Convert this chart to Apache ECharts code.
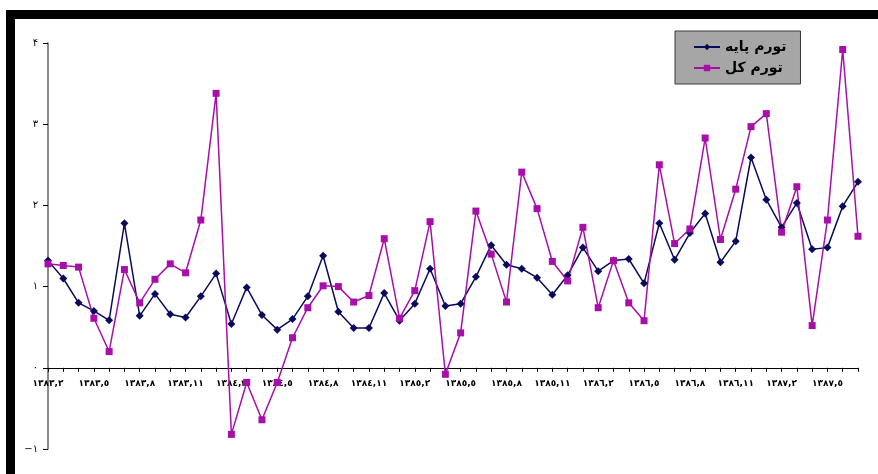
<!DOCTYPE html>
<html>
<head>
<meta charset="utf-8">
<script src="https://cdn.jsdelivr.net/npm/echarts@6/dist/echarts.min.js"></script>
<style>
html,body{margin:0;padding:0;background:#fff;}
#chart{width:878px;height:474px;}
</style>
</head>
<body>
<div id="chart"></div>
<script>
const categories = [
  "١٣٨٣,٢","١٣٨٣,٣","١٣٨٣,٤","١٣٨٣,٥","١٣٨٣,٦","١٣٨٣,٧","١٣٨٣,٨","١٣٨٣,٩","١٣٨٣,١٠","١٣٨٣,١١","١٣٨٣,١٢",
  "١٣٨٤,١","١٣٨٤,٢","١٣٨٤,٣","١٣٨٤,٤","١٣٨٤,٥","١٣٨٤,٦","١٣٨٤,٧","١٣٨٤,٨","١٣٨٤,٩","١٣٨٤,١٠","١٣٨٤,١١","١٣٨٤,١٢",
  "١٣٨٥,١","١٣٨٥,٢","١٣٨٥,٣","١٣٨٥,٤","١٣٨٥,٥","١٣٨٥,٦","١٣٨٥,٧","١٣٨٥,٨","١٣٨٥,٩","١٣٨٥,١٠","١٣٨٥,١١","١٣٨٥,١٢",
  "١٣٨٦,١","١٣٨٦,٢","١٣٨٦,٣","١٣٨٦,٤","١٣٨٦,٥","١٣٨٦,٦","١٣٨٦,٧","١٣٨٦,٨","١٣٨٦,٩","١٣٨٦,١٠","١٣٨٦,١١","١٣٨٦,١٢",
  "١٣٨٧,١","١٣٨٧,٢","١٣٨٧,٣","١٣٨٧,٤","١٣٨٧,٥","١٣٨٧,٦","١٣٨٧,٧"
];
const seriesNames = ["تورم پایه", "تورم کل"];
const baseInflation = [1.32,1.10,0.80,0.70,0.585,1.78,0.64,0.91,0.66,0.62,0.88,1.16,0.54,0.99,
  0.65,0.47,0.60,0.88,1.38,0.69,0.49,0.49,0.92,0.58,0.79,1.22,0.76,0.79,
  1.12,1.51,1.27,1.22,1.11,0.90,1.14,1.48,1.19,1.32,1.34,1.04,
  1.78,1.33,1.66,1.90,1.30,1.56,2.59,2.07,1.73,2.03,1.46,1.48,1.99,2.29];
const totalInflation = [1.28,1.26,1.24,0.61,0.20,1.21,0.80,1.09,1.28,1.17,1.82,3.38,-0.82,-0.18,
  -0.64,-0.18,0.37,0.74,1.01,1.00,0.81,0.89,1.59,0.61,0.95,1.80,-0.08,0.43,
  1.93,1.40,0.81,2.41,1.96,1.31,1.07,1.73,0.74,1.32,0.80,0.58,
  2.50,1.53,1.71,2.83,1.58,2.20,2.97,3.13,1.67,2.23,0.52,1.82,3.92,1.62];
const yTickValues = [-1, 0, 1, 2, 3, 4];
const yTickLabels = ["−١", "٠", "١", "٢", "٣", "۴"];

const chart = echarts.init(document.getElementById('chart'));
const font = "'DejaVu Sans', sans-serif";
const gridTop = 43, gridBottom = 25, H = 474;
const yMin = -1, yMax = 4;
const plotH = H - gridTop - gridBottom;
const zeroOffset = -plotH * (0 - yMin) / (yMax - yMin);
chart.setOption({
  animation: false,
  backgroundColor: '#ffffff',
  graphic: [
    { type: 'rect', shape: { x: 6, y: 10, width: 872, height: 9 }, style: { fill: '#000' }, z: 100 },
    { type: 'rect', shape: { x: 6, y: 10, width: 9, height: 464 }, style: { fill: '#000' }, z: 100 }
  ],
  grid: { left: 48, right: 20, top: gridTop, bottom: gridBottom, containLabel: false },
  legend: {
    orient: 'vertical',
    left: 675,
    top: 31,
    padding: [9, 14, 9, 18],
    itemGap: 7,
    itemWidth: 26,
    itemHeight: 8,
    backgroundColor: '#a6a6a6',
    borderColor: '#3a3a3a',
    borderWidth: 1,
    textStyle: { fontFamily: font, fontWeight: 'bold', fontSize: 14, color: '#000', lineHeight: 14 },
    data: seriesNames
  },
  xAxis: {
    type: 'category',
    data: categories,
    boundaryGap: false,
    offset: zeroOffset,
    axisLine: { onZero: false, lineStyle: { color: '#000', width: 1 } },
    axisTick: { show: true, interval: 0, length: 4, lineStyle: { color: '#000' } },
    axisLabel: { interval: 2, margin: 11, fontFamily: font, fontSize: 9, fontWeight: 'bold', color: '#000' },
    splitLine: { show: false }
  },
  yAxis: {
    type: 'value',
    min: yMin, max: yMax, interval: 1,
    axisLine: { show: true, lineStyle: { color: '#666', width: 1.5 } },
    axisTick: { show: true, length: 5, lineStyle: { color: '#000' } },
    axisLabel: {
      margin: 10, fontFamily: font, fontSize: 10, color: '#000',
      formatter: function (v) { const i = yTickValues.indexOf(v); return i >= 0 ? yTickLabels[i] : ''; }
    },
    splitLine: { show: false }
  },
  series: [
    {
      name: seriesNames[0], type: 'line', data: baseInflation,
      symbol: 'diamond', symbolSize: 8, showAllSymbol: true,
      lineStyle: { color: '#0b0b5c', width: 1.5 },
      itemStyle: { color: '#0b0b5c' }
    },
    {
      name: seriesNames[1], type: 'line', data: totalInflation,
      symbol: 'rect', symbolSize: 7, showAllSymbol: true,
      lineStyle: { color: '#a80fa8', width: 1.5 },
      itemStyle: { color: '#a80fa8' }
    }
  ]
});
</script>
</body>
</html>
